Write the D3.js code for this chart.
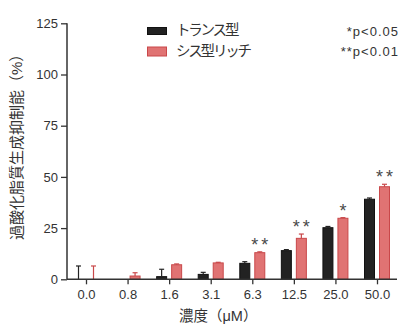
<!DOCTYPE html>
<html>
<head>
<meta charset="utf-8">
<script src="https://cdn.jsdelivr.net/npm/d3@7/dist/d3.min.js"></script>
<style>
  html, body { margin: 0; padding: 0; background: #fff; }
  svg text { font-family: "Liberation Sans", Arial, "Noto Sans CJK JP", sans-serif; }
</style>
</head>
<body>
<svg id="chart" width="409" height="333"></svg>
<script>
// Concentrations (µM) and inhibition (%) per group
const concentrations = ["0.0", "0.8", "1.6", "3.1", "6.3", "12.5", "25.0", "50.0"];
const transValues = [0, 0, 1.3, 2.4, 7.8, 14.0, 25.2, 39.1];
const transErrors = [6.5, 0, 3.6, 1.0, 0.8, 0.5, 0.6, 0.6];
const cisValues   = [0, 1.6, 7.1, 8.0, 13.0, 20.0, 29.8, 45.2];
const cisErrors   = [6.5, 1.6, 0.4, 0.3, 0.4, 2.1, 0.3, 1.2];
const significance = ["", "", "", "", "**", "**", "*", "**"];
const yTicks = [0, 25, 50, 75, 100, 125];
const seriesNames = ["トランス型", "シス型リッチ"];
const pKey = ["*p<0.05", "**p<0.01"];

const svg = d3.select("#chart");
const axisColor = "#333";
const textColor = "#333";
const cjk = "'Noto Sans CJK JP', sans-serif";
const latin = "'Liberation Sans', Arial, sans-serif";

const x = d3.scalePoint().domain(concentrations).range([86, 377]);
const y = d3.scaleLinear().domain([0, 125]).range([279.3, 23.3]);

const barW = 10;
const offset = 7.5;
const series = [
  { name: seriesNames[0], values: transValues, errors: transErrors, dx: -offset, fill: "#222222", stroke: "#111111", err: "#222222", swatchH: 7, swatchY: 27.5 },
  { name: seriesNames[1], values: cisValues, errors: cisErrors, dx: offset, fill: "#e07373", stroke: "#c9484a", err: "#c9484a", swatchH: 9, swatchY: 47 }
];

// bars and upward error bars
series.forEach(s => {
  const g = svg.append("g");
  concentrations.forEach((c, i) => {
    const cx = x(c) + s.dx;
    const v = s.values[i];
    if (v > 0) {
      g.append("rect")
        .attr("x", cx - barW / 2)
        .attr("y", y(v))
        .attr("width", barW)
        .attr("height", y(0) - y(v))
        .attr("fill", s.fill)
        .attr("stroke", s.stroke)
        .attr("stroke-width", 1);
    }
    const e = s.errors[i];
    if (e > 0) {
      g.append("line")
        .attr("x1", cx).attr("x2", cx)
        .attr("y1", y(v)).attr("y2", y(v + e))
        .attr("stroke", s.err).attr("stroke-width", 1.2);
      g.append("line")
        .attr("x1", cx - 2.5).attr("x2", cx + 2.5)
        .attr("y1", y(v + e)).attr("y2", y(v + e))
        .attr("stroke", s.err).attr("stroke-width", 1.2);
    }
  });
});

// significance marks over the cis-rich bars
concentrations.forEach((c, i) => {
  if (!significance[i]) return;
  const multi = significance[i].length > 1;
  svg.append("text")
    .attr("x", x(c) + offset + (multi ? 1.5 : 0))
    .attr("y", y(cisValues[i] + cisErrors[i]) - 1)
    .attr("text-anchor", "middle")
    .attr("font-size", 18)
    .attr("font-family", latin)
    .attr("letter-spacing", multi ? 3 : 0)
    .attr("fill", "#4a4a4a")
    .text(significance[i]);
});

// y axis
const yAxis = svg.append("g")
  .attr("transform", "translate(67,0)")
  .call(d3.axisLeft(y).tickValues(yTicks).tickSize(6).tickPadding(3));
yAxis.select(".domain").remove();
yAxis.selectAll(".tick line").attr("stroke", axisColor).attr("stroke-width", 1.3);
yAxis.selectAll(".tick text").attr("font-size", 13).attr("fill", textColor)
  .attr("font-family", latin);
svg.append("line")
  .attr("x1", 67).attr("x2", 67)
  .attr("y1", y(125)).attr("y2", y(0))
  .attr("stroke", axisColor).attr("stroke-width", 1.5);

// x axis
const xAxis = svg.append("g")
  .attr("transform", `translate(0,${y(0)})`)
  .call(d3.axisBottom(x).tickSize(5).tickPadding(5));
xAxis.select(".domain").remove();
xAxis.selectAll(".tick line").attr("stroke", axisColor).attr("stroke-width", 1.3);
xAxis.selectAll(".tick text").attr("font-size", 13).attr("fill", textColor)
  .attr("font-family", latin);
svg.append("line")
  .attr("x1", 67).attr("x2", 397)
  .attr("y1", y(0)).attr("y2", y(0))
  .attr("stroke", axisColor).attr("stroke-width", 1.5);

// axis titles (kanji in CJK face, unit symbols in Latin face)
const yTitle = svg.append("text")
  .attr("transform", "translate(22,240) rotate(-90)")
  .attr("text-anchor", "start")
  .attr("font-size", 15)
  .attr("fill", textColor)
  .attr("font-family", cjk);
yTitle.append("tspan").text("過酸化脂質生成抑制能");
yTitle.append("tspan").text("（");
yTitle.append("tspan").attr("font-family", latin).text("%");
yTitle.append("tspan").text("）");

const xTitle = svg.append("text")
  .attr("x", 179).attr("y", 321)
  .attr("text-anchor", "start")
  .attr("font-size", 14.5)
  .attr("fill", textColor)
  .attr("font-family", cjk);
xTitle.append("tspan").text("濃度");
xTitle.append("tspan").text("（");
xTitle.append("tspan").attr("font-family", latin).text("μM");
xTitle.append("tspan").text("）");

// legend
const legend = svg.append("g");
series.forEach((s, i) => {
  legend.append("rect")
    .attr("x", 147.5).attr("y", s.swatchY)
    .attr("width", 19).attr("height", s.swatchH)
    .attr("fill", s.fill).attr("stroke", s.stroke).attr("stroke-width", 1);
  legend.append("text")
    .attr("x", 176).attr("y", 34.5 + i * 21.5)
    .attr("font-size", 14.5)
    .attr("letter-spacing", -2.2)
    .attr("fill", textColor)
    .attr("font-family", cjk)
    .text(s.name);
});

// p-value key
pKey.forEach((t, i) => {
  svg.append("text")
    .attr("x", 399).attr("y", 36 + i * 20)
    .attr("text-anchor", "end")
    .attr("font-size", 13)
    .attr("letter-spacing", 1)
    .attr("font-family", "'DejaVu Sans', sans-serif")
    .attr("fill", textColor)
    .text(t);
});
</script>
</body>
</html>
